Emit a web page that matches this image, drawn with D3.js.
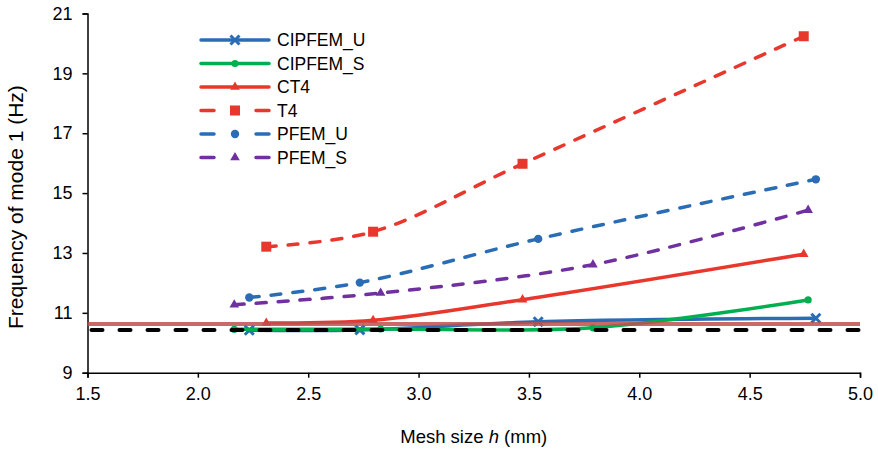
<!DOCTYPE html>
<html>
<head>
<meta charset="utf-8">
<script src="https://cdn.jsdelivr.net/npm/d3@7"></script>
<style>
  html, body { margin: 0; padding: 0; background: #fff; }
  #chart { width: 878px; height: 449px; }
  text { font-family: "Liberation Sans", Arial, sans-serif; fill: #000; }
</style>
</head>
<body>
<div id="chart"></div>
<script>
// mesh sizes (three mesh families)
const hA = [2.31, 2.794, 3.471, 4.745];   // T4 / CT4
const hB = [2.233, 2.734, 3.542, 4.80];   // PFEM_U / CIPFEM_U
const hC = [2.165, 2.828, 3.79, 4.765];   // PFEM_S / CIPFEM_S

const cipfemU = [10.42, 10.43, 10.70, 10.82];
const cipfemS = [10.45, 10.46, 10.50, 11.43];
const ct4     = [10.66, 10.75, 11.44, 12.96];
const t4      = [13.21, 13.71, 15.98, 20.24];
const pfemU   = [11.51, 12.01, 13.47, 15.46];
const pfemS   = [11.27, 11.66, 12.61, 14.43];

const refPale  = 10.63;
const refBlack = 10.43;

const xTicks = [1.5, 2.0, 2.5, 3.0, 3.5, 4.0, 4.5, 5.0];
const yTicks = [9, 11, 13, 15, 17, 19, 21];

const series = [
  { label: "CIPFEM_U", h: hB, v: cipfemU, color: "#2a6db5", dash: null, marker: "x" },
  { label: "CIPFEM_S", h: hC, v: cipfemS, color: "#00b050", dash: null, marker: "circleSm" },
  { label: "CT4",      h: hA, v: ct4,     color: "#e8372c", dash: null, marker: "tri" },
  { label: "T4",       h: hA, v: t4,      color: "#e8372c", dash: "10,12", marker: "square" },
  { label: "PFEM_U",   h: hB, v: pfemU,   color: "#2a6db5", dash: "10,12", marker: "circle" },
  { label: "PFEM_S",   h: hC, v: pfemS,   color: "#7030a0", dash: "10,12", marker: "tri" }
];

const W = 878, H = 449;
const M = { top: 13.5, right: 18, bottom: 76.3, left: 87.5 };
const iW = W - M.left - M.right;
const iH = H - M.top - M.bottom;

const svg = d3.select("#chart").append("svg")
  .attr("width", W).attr("height", H);

const g = svg.append("g").attr("transform", `translate(${M.left},${M.top})`);

const x = d3.scaleLinear().domain([1.5, 5.0]).range([0, iW]);
const y = d3.scaleLinear().domain([9, 21]).range([iH, 0]);

// Axes
g.append("g").attr("transform", `translate(0,${iH})`)
  .call(d3.axisBottom(x).tickValues(xTicks).tickFormat(d3.format(".1f")).tickSizeOuter(0).tickSize(5).tickPadding(10))
  .call(ax => ax.select(".domain").attr("stroke", "#000").attr("stroke-width", 1.5))
  .call(ax => ax.selectAll(".tick line").attr("stroke", "#000").attr("stroke-width", 1.5))
  .call(ax => ax.selectAll("text").style("font-size", "18px").attr("font-family", null));

g.append("g")
  .call(d3.axisLeft(y).tickValues(yTicks).tickFormat(d3.format("d")).tickSizeOuter(0).tickSize(5).tickPadding(10))
  .call(ax => ax.select(".domain").attr("stroke", "#000").attr("stroke-width", 1.5))
  .call(ax => ax.selectAll(".tick line").attr("stroke", "#000").attr("stroke-width", 1.5))
  .call(ax => ax.selectAll("text").style("font-size", "18px").attr("font-family", null));

// Axis titles
const xt = svg.append("text")
  .attr("x", M.left + iW / 2).attr("y", 443)
  .attr("text-anchor", "middle")
  .style("font-size", "18.5px");
xt.append("tspan").text("Mesh size ");
xt.append("tspan").style("font-style", "italic").text("h");
xt.append("tspan").text(" (mm)");

svg.append("text")
  .attr("transform", `translate(23,${M.top + iH / 2 + 14}) rotate(-90)`)
  .attr("text-anchor", "middle")
  .style("font-size", "21px")
  .text("Frequency of mode 1 (Hz)");

// Markers
function drawMarker(sel, type, color) {
  if (type === "x") {
    sel.append("path")
      .attr("d", "M-4.5,-4.5L4.5,4.5M-4.5,4.5L4.5,-4.5")
      .attr("stroke", color).attr("stroke-width", 3).attr("fill", "none");
  } else if (type === "circle") {
    sel.append("circle").attr("r", 4.2).attr("fill", color);
  } else if (type === "circleSm") {
    sel.append("circle").attr("r", 3.6).attr("fill", color);
  } else if (type === "tri") {
    sel.append("path").attr("d", d3.symbol(d3.symbolTriangle, 40)).attr("fill", color);
  } else if (type === "square") {
    sel.append("rect").attr("x", -5).attr("y", -5).attr("width", 10).attr("height", 10).attr("fill", color);
  }
}

const line = d3.line()
  .x(d => x(d[0]))
  .y(d => y(d[1]))
  .curve(d3.curveCatmullRom);

const plot = g.append("g");

series.forEach(s => {
  const pts = s.h.map((h, i) => [h, s.v[i]]);
  plot.append("path")
    .datum(pts)
    .attr("fill", "none")
    .attr("stroke", s.color)
    .attr("stroke-width", 3.5)
    .attr("stroke-linecap", "round")
    .attr("stroke-dasharray", s.dash)
    .attr("d", line);
  pts.forEach(p => {
    drawMarker(plot.append("g").attr("transform", `translate(${x(p[0])},${y(p[1])})`), s.marker, s.color);
  });
});

// Reference lines
g.append("line")
  .attr("x1", 0).attr("x2", iW)
  .attr("y1", y(refPale)).attr("y2", y(refPale))
  .attr("stroke", "#c0504d").attr("stroke-opacity", 0.85).attr("stroke-width", 4);

g.append("line")
  .attr("x1", 4).attr("x2", iW)
  .attr("y1", y(refBlack)).attr("y2", y(refBlack))
  .attr("stroke", "#000").attr("stroke-width", 4)
  .attr("stroke-linecap", "round")
  .attr("stroke-dasharray", "11,17");

// Legend
const legend = svg.append("g").attr("transform", "translate(200,40)");
series.forEach((s, i) => {
  const row = legend.append("g").attr("transform", `translate(0,${i * 23.5})`);
  row.append("line")
    .attr("x1", 1).attr("x2", 69).attr("y1", 0).attr("y2", 0)
    .attr("stroke", s.color).attr("stroke-width", 3.5)
    .attr("stroke-linecap", "round")
    .attr("stroke-dasharray", s.dash ? "13,42" : null);
  drawMarker(row.append("g").attr("transform", "translate(35,0)"), s.marker, s.color);
  row.append("text")
    .attr("x", 77).attr("y", 6)
    .style("font-size", "17.5px")
    .text(s.label);
});
</script>
</body>
</html>
